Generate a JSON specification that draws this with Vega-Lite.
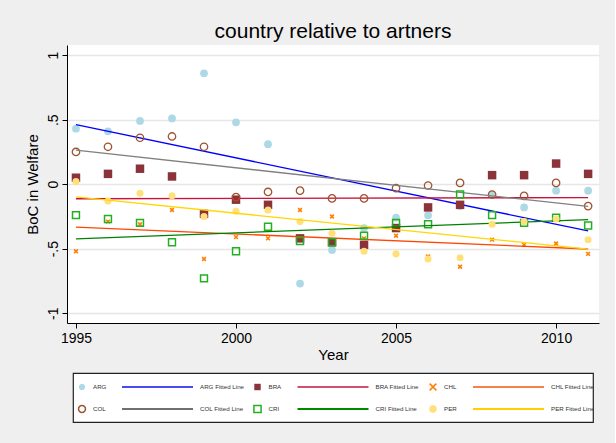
{
  "$schema": "https://vega.github.io/schema/vega-lite/v6.json",
  "background": "#efefef",
  "padding": {"left": 25, "top": 21, "right": 16, "bottom": 21},
  "config": {
    "font": "Liberation Sans",
    "view": {"stroke": null},
    "title": {"font": "Liberation Sans", "fontWeight": "normal", "color": "black"},
    "axis": {
      "domainColor": "black", "tickColor": "black", "labelColor": "black", "titleColor": "black",
      "labelFont": "Liberation Sans", "titleFont": "Liberation Sans",
      "labelFontSize": 14, "titleFontSize": 15, "titleFontWeight": "normal",
      "tickSize": 5, "domainWidth": 1, "tickWidth": 1
    }
  },
  "datasets": {
    "boc": [
      {"country": "ARG", "year": 1995, "boc": 0.43}, {"country": "ARG", "year": 1996, "boc": 0.41},
      {"country": "ARG", "year": 1997, "boc": 0.49}, {"country": "ARG", "year": 1998, "boc": 0.51},
      {"country": "ARG", "year": 1999, "boc": 0.86}, {"country": "ARG", "year": 2000, "boc": 0.48},
      {"country": "ARG", "year": 2001, "boc": 0.31}, {"country": "ARG", "year": 2002, "boc": -0.77},
      {"country": "ARG", "year": 2003, "boc": -0.51}, {"country": "ARG", "year": 2004, "boc": -0.34},
      {"country": "ARG", "year": 2005, "boc": -0.26}, {"country": "ARG", "year": 2006, "boc": -0.24},
      {"country": "ARG", "year": 2007, "boc": -0.17}, {"country": "ARG", "year": 2008, "boc": -0.08},
      {"country": "ARG", "year": 2009, "boc": -0.18}, {"country": "ARG", "year": 2010, "boc": -0.05},
      {"country": "ARG", "year": 2011, "boc": -0.05},
      {"country": "BRA", "year": 1995, "boc": 0.05}, {"country": "BRA", "year": 1996, "boc": 0.08},
      {"country": "BRA", "year": 1997, "boc": 0.12}, {"country": "BRA", "year": 1998, "boc": 0.06},
      {"country": "BRA", "year": 1999, "boc": -0.23}, {"country": "BRA", "year": 2000, "boc": -0.12},
      {"country": "BRA", "year": 2001, "boc": -0.16}, {"country": "BRA", "year": 2002, "boc": -0.42},
      {"country": "BRA", "year": 2003, "boc": -0.45}, {"country": "BRA", "year": 2004, "boc": -0.47},
      {"country": "BRA", "year": 2005, "boc": -0.34}, {"country": "BRA", "year": 2006, "boc": -0.18},
      {"country": "BRA", "year": 2007, "boc": -0.16}, {"country": "BRA", "year": 2008, "boc": 0.07},
      {"country": "BRA", "year": 2009, "boc": 0.07}, {"country": "BRA", "year": 2010, "boc": 0.16},
      {"country": "BRA", "year": 2011, "boc": 0.08},
      {"country": "CHL", "year": 1995, "boc": -0.52}, {"country": "CHL", "year": 1996, "boc": -0.29},
      {"country": "CHL", "year": 1997, "boc": -0.31}, {"country": "CHL", "year": 1998, "boc": -0.2},
      {"country": "CHL", "year": 1999, "boc": -0.58}, {"country": "CHL", "year": 2000, "boc": -0.41},
      {"country": "CHL", "year": 2001, "boc": -0.42}, {"country": "CHL", "year": 2002, "boc": -0.2},
      {"country": "CHL", "year": 2003, "boc": -0.25}, {"country": "CHL", "year": 2004, "boc": -0.42},
      {"country": "CHL", "year": 2005, "boc": -0.4}, {"country": "CHL", "year": 2006, "boc": -0.56},
      {"country": "CHL", "year": 2007, "boc": -0.64}, {"country": "CHL", "year": 2008, "boc": -0.43},
      {"country": "CHL", "year": 2009, "boc": -0.47}, {"country": "CHL", "year": 2010, "boc": -0.46},
      {"country": "CHL", "year": 2011, "boc": -0.54},
      {"country": "COL", "year": 1995, "boc": 0.25}, {"country": "COL", "year": 1996, "boc": 0.29},
      {"country": "COL", "year": 1997, "boc": 0.36}, {"country": "COL", "year": 1998, "boc": 0.37},
      {"country": "COL", "year": 1999, "boc": 0.29}, {"country": "COL", "year": 2000, "boc": -0.1},
      {"country": "COL", "year": 2001, "boc": -0.06}, {"country": "COL", "year": 2002, "boc": -0.05},
      {"country": "COL", "year": 2003, "boc": -0.11}, {"country": "COL", "year": 2004, "boc": -0.11},
      {"country": "COL", "year": 2005, "boc": -0.03}, {"country": "COL", "year": 2006, "boc": -0.01},
      {"country": "COL", "year": 2007, "boc": 0.01}, {"country": "COL", "year": 2008, "boc": -0.08},
      {"country": "COL", "year": 2009, "boc": -0.09}, {"country": "COL", "year": 2010, "boc": 0.01},
      {"country": "COL", "year": 2011, "boc": -0.17},
      {"country": "CRI", "year": 1995, "boc": -0.24}, {"country": "CRI", "year": 1996, "boc": -0.27},
      {"country": "CRI", "year": 1997, "boc": -0.3}, {"country": "CRI", "year": 1998, "boc": -0.45},
      {"country": "CRI", "year": 1999, "boc": -0.73}, {"country": "CRI", "year": 2000, "boc": -0.52},
      {"country": "CRI", "year": 2001, "boc": -0.33}, {"country": "CRI", "year": 2002, "boc": -0.44},
      {"country": "CRI", "year": 2003, "boc": -0.45}, {"country": "CRI", "year": 2004, "boc": -0.4},
      {"country": "CRI", "year": 2005, "boc": -0.3}, {"country": "CRI", "year": 2006, "boc": -0.31},
      {"country": "CRI", "year": 2007, "boc": -0.08}, {"country": "CRI", "year": 2008, "boc": -0.24},
      {"country": "CRI", "year": 2009, "boc": -0.3}, {"country": "CRI", "year": 2010, "boc": -0.26},
      {"country": "CRI", "year": 2011, "boc": -0.32},
      {"country": "PER", "year": 1995, "boc": 0.02}, {"country": "PER", "year": 1996, "boc": -0.13},
      {"country": "PER", "year": 1997, "boc": -0.07}, {"country": "PER", "year": 1998, "boc": -0.09},
      {"country": "PER", "year": 1999, "boc": -0.25}, {"country": "PER", "year": 2000, "boc": -0.21},
      {"country": "PER", "year": 2001, "boc": -0.2}, {"country": "PER", "year": 2002, "boc": -0.29},
      {"country": "PER", "year": 2003, "boc": -0.38}, {"country": "PER", "year": 2004, "boc": -0.52},
      {"country": "PER", "year": 2005, "boc": -0.54}, {"country": "PER", "year": 2006, "boc": -0.58},
      {"country": "PER", "year": 2007, "boc": -0.57}, {"country": "PER", "year": 2008, "boc": -0.31},
      {"country": "PER", "year": 2009, "boc": -0.29}, {"country": "PER", "year": 2010, "boc": -0.27},
      {"country": "PER", "year": 2011, "boc": -0.43}
    ],
    "keys": [
      {"country": "ARG", "fit": "ARG Fitted Line", "legendCol": 1, "legendRow": 1},
      {"country": "BRA", "fit": "BRA Fitted Line", "legendCol": 2, "legendRow": 1},
      {"country": "CHL", "fit": "CHL Fitted Line", "legendCol": 3, "legendRow": 1},
      {"country": "COL", "fit": "COL Fitted Line", "legendCol": 1, "legendRow": 2},
      {"country": "CRI", "fit": "CRI Fitted Line", "legendCol": 2, "legendRow": 2},
      {"country": "PER", "fit": "PER Fitted Line", "legendCol": 3, "legendRow": 2}
    ]
  },
  "bounds": "flush",
  "spacing": 50,
  "center": true,
  "vconcat": [
    {
      "title": {"text": "country relative to artners", "fontSize": 21, "anchor": "middle", "offset": 3},
      "width": 532,
      "height": 278,
      "view": {"fill": "white", "stroke": null},
      "data": {"name": "boc"},
      "encoding": {
        "x": {
          "field": "year", "type": "quantitative",
          "scale": {"domain": [1994.72, 2011.34], "nice": false, "zero": false},
          "axis": {"values": [1995, 2000, 2005, 2010], "format": "d", "title": "Year", "grid": false, "labelPadding": 3, "titlePadding": 2}
        },
        "y": {
          "field": "boc", "type": "quantitative",
          "scale": {"domain": [-1.076, 1.079], "nice": false, "zero": false},
          "axis": {
            "values": [-1, -0.5, 0, 0.5, 1],
            "labelExpr": "datum.value == 1 ? '1' : datum.value == 0.5 ? '.5' : datum.value == 0 ? '0' : datum.value == -0.5 ? '-.5' : '-1'",
            "labelAngle": -90, "labelBaseline": "alphabetic", "labelAlign": "center", "labelPadding": 5,
            "title": "BoC in Welfare", "titlePadding": 6,
            "grid": true, "gridColor": "#e6e6e6", "gridWidth": 1.5
          }
        }
      },
      "layer": [
        {"transform": [{"filter": "datum.country == 'ARG'"}],
         "mark": {"type": "point", "shape": "circle", "filled": true, "color": "#add8e6", "size": 60, "opacity": 1}},
        {"transform": [{"filter": "datum.country == 'ARG'"}, {"regression": "boc", "on": "year"}],
         "mark": {"type": "line", "color": "#0000ff", "strokeWidth": 1.3}},
        {"transform": [{"filter": "datum.country == 'BRA'"}],
         "mark": {"type": "point", "shape": "square", "filled": true, "color": "#8c3239", "size": 72, "opacity": 1}},
        {"transform": [{"filter": "datum.country == 'BRA'"}, {"regression": "boc", "on": "year"}],
         "mark": {"type": "line", "color": "#c8143c", "strokeWidth": 1.3}},
        {"transform": [{"filter": "datum.country == 'CHL'"}],
         "mark": {"type": "point", "shape": "M-1,-1L1,1M1,-1L-1,1", "filled": false, "color": "#ff7f00", "strokeWidth": 1.6, "size": 14, "opacity": 1}},
        {"transform": [{"filter": "datum.country == 'CHL'"}, {"regression": "boc", "on": "year"}],
         "mark": {"type": "line", "color": "#ff4500", "strokeWidth": 1.3}},
        {"transform": [{"filter": "datum.country == 'COL'"}],
         "mark": {"type": "point", "shape": "circle", "filled": false, "color": "#a0522d", "strokeWidth": 1.3, "size": 55, "opacity": 1}},
        {"transform": [{"filter": "datum.country == 'COL'"}, {"regression": "boc", "on": "year"}],
         "mark": {"type": "line", "color": "#808080", "strokeWidth": 1.3}},
        {"transform": [{"filter": "datum.country == 'CRI'"}],
         "mark": {"type": "point", "shape": "square", "filled": false, "color": "#22b022", "strokeWidth": 1.5, "size": 48, "opacity": 1}},
        {"transform": [{"filter": "datum.country == 'CRI'"}, {"regression": "boc", "on": "year"}],
         "mark": {"type": "line", "color": "#008000", "strokeWidth": 1.3}},
        {"transform": [{"filter": "datum.country == 'PER'"}],
         "mark": {"type": "point", "shape": "circle", "filled": true, "color": "#ffe07a", "size": 50, "opacity": 1}},
        {"transform": [{"filter": "datum.country == 'PER'"}, {"regression": "boc", "on": "year"}],
         "mark": {"type": "line", "color": "#ffd700", "strokeWidth": 1.3}}
      ]
    },
    {
      "width": 520,
      "height": 49,
      "view": {"fill": "white", "stroke": "#222222", "strokeWidth": 1.2},
      "data": {"name": "keys"},
      "encoding": {
        "x": {"field": "legendCol", "type": "ordinal", "scale": {"type": "point", "range": [9, 360], "padding": 0}, "axis": null},
        "y": {"field": "legendRow", "type": "ordinal", "scale": {"type": "point", "range": [14, 36], "padding": 0}, "axis": null}
      },
      "layer": [
        {
          "mark": {"type": "point", "strokeWidth": 1.5, "opacity": 1},
          "encoding": {
            "shape": {"field": "country", "type": "nominal", "legend": null,
              "scale": {"domain": ["ARG", "BRA", "CHL", "COL", "CRI", "PER"], "range": ["circle", "square", "M-1,-1L1,1M1,-1L-1,1", "circle", "square", "circle"]}},
            "fill": {"field": "country", "type": "nominal", "legend": null,
              "scale": {"domain": ["ARG", "BRA", "CHL", "COL", "CRI", "PER"], "range": ["#add8e6", "#8c3239", "transparent", "transparent", "transparent", "#ffe07a"]}},
            "stroke": {"field": "country", "type": "nominal", "legend": null,
              "scale": {"domain": ["ARG", "BRA", "CHL", "COL", "CRI", "PER"], "range": ["transparent", "transparent", "#ff7f00", "#a0522d", "#22b022", "transparent"]}},
            "size": {"field": "country", "type": "nominal", "legend": null,
              "scale": {"domain": ["ARG", "BRA", "CHL", "COL", "CRI", "PER"], "range": [38, 55, 8, 34, 36, 34]}}
          }
        },
        {
          "mark": {"type": "text", "align": "left", "baseline": "middle", "dx": 11, "fontSize": 6.2, "color": "#333333"},
          "encoding": {"text": {"field": "country"}}
        },
        {
          "mark": {"type": "rule", "xOffset": 40, "x2Offset": 111, "strokeWidth": 1.8},
          "encoding": {
            "x2": {"field": "legendCol"},
            "color": {"field": "country", "type": "nominal", "legend": null,
              "scale": {"domain": ["ARG", "BRA", "CHL", "COL", "CRI", "PER"], "range": ["#4a4af5", "#d2506e", "#f7804f", "#707070", "#008a00", "#ffd000"]}}
          }
        },
        {
          "mark": {"type": "text", "align": "left", "baseline": "middle", "dx": 118, "fontSize": 6.2, "color": "#333333", "clip": true},
          "encoding": {"text": {"field": "fit"}}
        }
      ]
    }
  ]
}
